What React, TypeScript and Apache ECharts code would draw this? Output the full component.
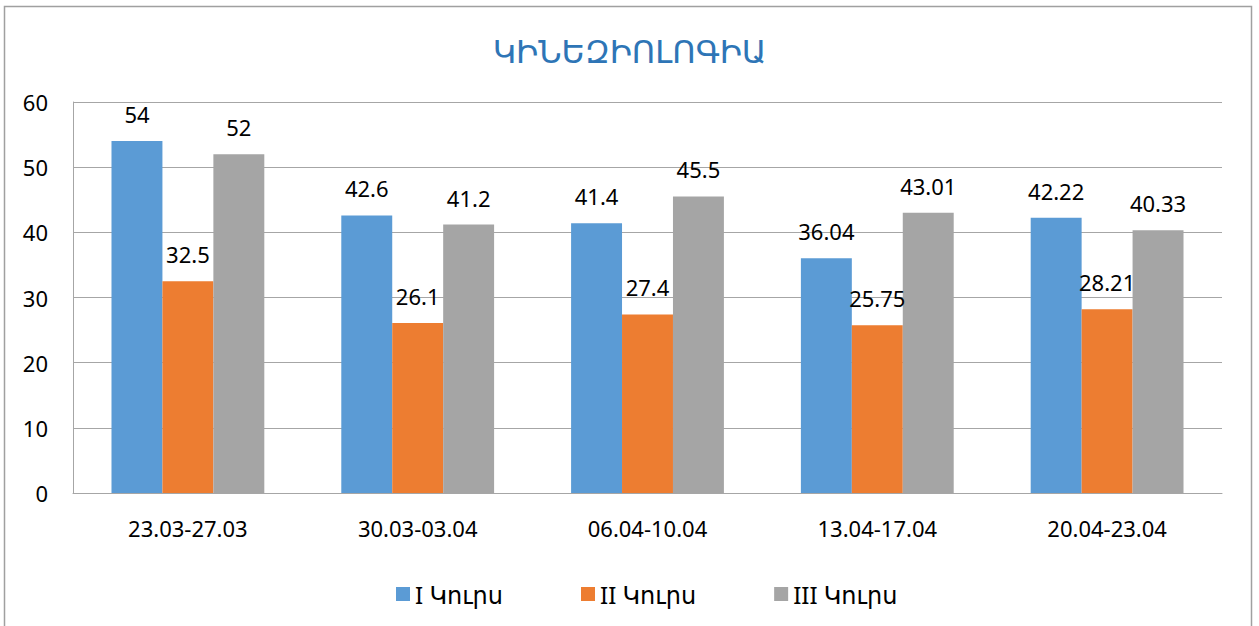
import React, { useEffect, useRef } from "react";
import * as echarts from "echarts";

const categories = ["23.03-27.03", "30.03-03.04", "06.04-10.04", "13.04-17.04", "20.04-23.04"];
const course1 = [54, 42.6, 41.4, 36.04, 42.22];
const course2 = [32.5, 26.1, 27.4, 25.75, 28.21];
const course3 = [52, 41.2, 45.5, 43.01, 40.33];
const seriesNames = ["I Կուրս", "II Կուրս", "III Կուրս"];
const colors = ["#5B9BD5", "#ED7D31", "#A5A5A5"];
const titleText = "ԿԻՆԵԶԻՈԼՈԳԻԱ";

const FONT = "'Noto Sans', 'DejaVu Sans', sans-serif";

export default function App() {
  const ref = useRef<HTMLDivElement>(null);
  useEffect(() => {
    document.body.style.margin = "0";
    const chart = echarts.init(ref.current!, null, { renderer: "svg" });
    const data = [course1, course2, course3];
    chart.setOption({
      animation: false,
      backgroundColor: "#ffffff",
      title: {
        text: titleText,
        left: "center",
        top: 29,
        textStyle: { color: "#2E75B6", fontSize: 32, fontWeight: "normal", fontFamily: FONT },
      },
      legend: {
        top: 577,
        left: 391,
        itemWidth: 14,
        itemHeight: 14,
        itemGap: 78,
        icon: "rect",
        textStyle: { fontSize: 24, color: "#000", fontFamily: FONT },
        data: seriesNames,
      },
      grid: { left: 73, right: 37, top: 102, bottom: 133, containLabel: false },
      xAxis: {
        type: "category",
        data: categories,
        axisLine: { lineStyle: { color: "#A6A6A6", width: 1 } },
        axisTick: { show: false },
        axisLabel: { fontSize: 22, color: "#000", margin: 24, fontFamily: FONT },
      },
      yAxis: {
        type: "value",
        min: 0,
        max: 60,
        interval: 10,
        axisLine: { show: true, lineStyle: { color: "#A6A6A6" } },
        axisTick: { show: false },
        splitLine: { lineStyle: { color: "#A6A6A6" } },
        axisLabel: { fontSize: 22, color: "#000", margin: 25, fontFamily: FONT },
      },
      graphic: [
        {
          type: "rect",
          shape: { x: 4.5, y: 6.5, width: 1247, height: 660 },
          style: { fill: "none", stroke: "#A0A0A0", lineWidth: 1.5 },
          silent: true,
        },
      ],
      series: data.map((d, i) => ({
        name: seriesNames[i],
        type: "bar",
        data: d,
        barGap: "0%",
        barCategoryGap: "33.5%",
        itemStyle: { color: colors[i] },
        label: {
          show: true,
          position: "top",
          distance: 16,
          fontSize: 22,
          color: "#000",
          fontFamily: FONT,
        },
      })),
    });
    return () => chart.dispose();
  }, []);
  return (
    <div
      ref={ref}
      style={{ position: "fixed", left: 0, top: 0, width: 1259, height: 626 }}
    />
  );
}
